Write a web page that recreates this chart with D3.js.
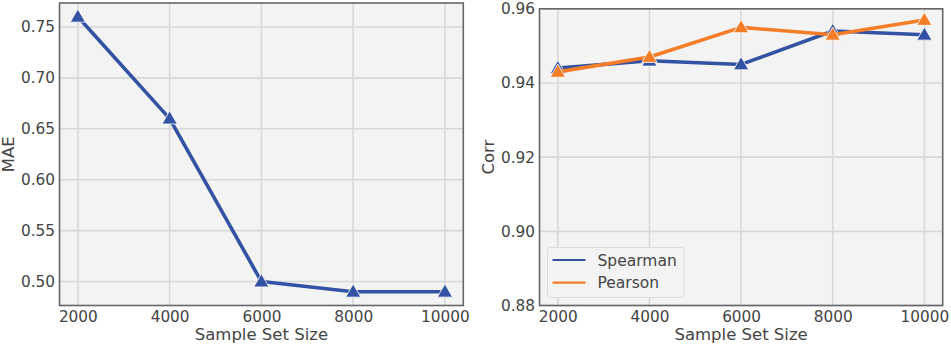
<!DOCTYPE html>
<html>
<head>
<meta charset="utf-8">
<script src="https://cdn.jsdelivr.net/npm/d3@7"></script>
<style>
  body { margin: 0; background: #fff; }
  text { font-family: "DejaVu Sans", sans-serif; fill: #444; }
</style>
</head>
<body>
<svg id="chart" width="951" height="346"></svg>
<script>
// data
var sizes = [2000, 4000, 6000, 8000, 10000];
var mae = [0.76, 0.66, 0.50, 0.49, 0.49];
var spearman = [0.944, 0.946, 0.945, 0.954, 0.953];
var pearson = [0.943, 0.947, 0.955, 0.953, 0.957];
var maeTicks = [0.50, 0.55, 0.60, 0.65, 0.70, 0.75];
var corrTicks = [0.88, 0.90, 0.92, 0.94, 0.96];
var seriesNames = ["Spearman", "Pearson"];

var blue = "#3352a3";
var orange = "#f57d28";

var svg = d3.select("#chart");

function panel(box, yDomain, yTicks, yFmt, yLabel, series) {
  var g = svg.append("g");
  var x = d3.scaleLinear().domain([1600, 10400]).range([box.left, box.right]);
  var y = d3.scaleLinear().domain(yDomain).range([box.bottom, box.top]);

  g.append("rect")
    .attr("x", box.left).attr("y", box.top)
    .attr("width", box.right - box.left).attr("height", box.bottom - box.top)
    .attr("fill", "#f3f3f3");

  // grid
  g.selectAll(".vgrid").data(sizes).enter().append("line")
    .attr("x1", function(d) { return x(d); }).attr("x2", function(d) { return x(d); })
    .attr("y1", box.top).attr("y2", box.bottom)
    .attr("stroke", "#d8d8d8").attr("stroke-width", 1.6);
  g.selectAll(".hgrid").data(yTicks).enter().append("line")
    .attr("y1", function(d) { return y(d); }).attr("y2", function(d) { return y(d); })
    .attr("x1", box.left).attr("x2", box.right)
    .attr("stroke", "#d8d8d8").attr("stroke-width", 1.6);

  // axes (labels only, no tick marks)
  var xa = g.append("g").attr("transform", "translate(0," + box.bottom + ")")
    .call(d3.axisBottom(x).tickValues(sizes).tickSize(0).tickPadding(5.5).tickFormat(d3.format("d")));
  var ya = g.append("g").attr("transform", "translate(" + box.left + ",0)")
    .call(d3.axisLeft(y).tickValues(yTicks).tickSize(0).tickPadding(4.5).tickFormat(d3.format(yFmt)));
  [xa, ya].forEach(function(a) {
    a.select(".domain").remove();
    a.selectAll("text").style("font-size", "15.3px").style("fill", "#444");
  });

  g.append("text")
    .attr("x", (box.left + box.right) / 2).attr("y", 339.5)
    .attr("text-anchor", "middle").style("font-size", "16.5px")
    .text("Sample Set Size");
  g.append("text")
    .attr("transform", "translate(" + (box.left - 45.5) + "," + ((box.top + box.bottom) / 2) + ") rotate(-90)")
    .attr("text-anchor", "middle").style("font-size", "16.5px")
    .text(yLabel);

  var line = d3.line()
    .x(function(d, i) { return x(sizes[i]); })
    .y(function(d) { return y(d); });

  series.forEach(function(s) {
    g.append("path").datum(s.values)
      .attr("d", line).attr("fill", "none")
      .attr("stroke", s.color).attr("stroke-width", 3.6)
      .attr("stroke-linejoin", "round");
    g.selectAll(null).data(s.values).enter().append("path")
      .attr("d", d3.symbol().type(d3.symbolTriangle).size(100))
      .attr("transform", function(d, i) { return "translate(" + x(sizes[i]) + "," + (y(d) + 1) + ")"; })
      .attr("fill", s.color).attr("stroke", "#fff").attr("stroke-width", 0.8);
  });

  g.append("rect")
    .attr("x", box.left).attr("y", box.top)
    .attr("width", box.right - box.left).attr("height", box.bottom - box.top)
    .attr("fill", "none").attr("stroke", "#666").attr("stroke-width", 1.6);

  return { g: g, x: x, y: y };
}

panel({ left: 59.5, right: 463.3, top: 3, bottom: 305.5 },
  [0.4765, 0.7735], maeTicks, ".2f", "MAE",
  [{ values: mae, color: blue }]);

var right = panel({ left: 539.5, right: 942.7, top: 8.8, bottom: 305.5 },
  [0.88, 0.96], corrTicks, ".2f", "Corr",
  [{ values: spearman, color: blue }, { values: pearson, color: orange }]);

// legend
var lg = right.g.append("g").attr("transform", "translate(547.5,247.5)");
lg.append("rect").attr("width", 136.5).attr("height", 50).attr("rx", 3)
  .attr("fill", "#f3f3f3").attr("stroke", "#dcdcdc").attr("stroke-width", 1);
var legendColors = [blue, orange];
seriesNames.forEach(function(name, i) {
  var yy = 12.5 + i * 22.7;
  lg.append("line").attr("x1", 5).attr("x2", 38).attr("y1", yy).attr("y2", yy)
    .attr("stroke", legendColors[i]).attr("stroke-width", 2.2);
  lg.append("text").attr("x", 50).attr("y", yy + 5.5)
    .style("font-size", "15.5px").text(name);
});
</script>
</body>
</html>
